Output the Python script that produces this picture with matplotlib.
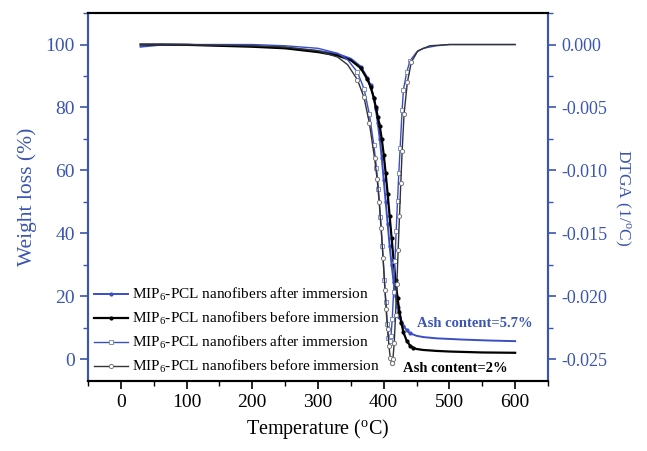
import numpy as np
import matplotlib
matplotlib.use("Agg")
import matplotlib.pyplot as plt
from matplotlib.ticker import MultipleLocator, FuncFormatter

plt.rcParams['font.family'] = ['Liberation Serif', 'DejaVu Serif']
plt.rcParams['mathtext.fontset'] = 'custom'
plt.rcParams['mathtext.rm'] = 'Liberation Serif'
plt.rcParams['mathtext.it'] = 'Liberation Serif:italic'
plt.rcParams['axes.unicode_minus'] = False

blue = '#3b55b0'
line_blue = '#3a4fc4'

# TGA, weight (%) vs temperature (C)
tga_after_T = [30, 60, 100, 150, 200, 250, 300, 330, 350, 365, 375, 380, 385, 388,
               391, 394, 397, 400, 403, 406, 409, 412, 415, 418, 421, 424, 427,
               430, 435, 440, 450, 460, 480, 500, 520, 560, 600]
tga_after_W = [99.3, 99.9, 99.9, 99.8, 99.5, 99.0, 98.0, 97.0, 95.5, 93.0, 89.5, 87.0,
               83.0, 79.5, 75.0, 70.0, 64.0, 57.0, 50.0, 43.0, 36.0, 30.0, 24.5, 20.0,
               16.5, 13.5, 11.8, 10.5, 9.2, 8.2, 7.4, 7.0, 6.6, 6.4, 6.2, 5.9, 5.7]

tga_before_T = [30, 60, 100, 150, 200, 250, 300, 330, 350, 365, 375, 380, 385, 388,
                391, 394, 397, 400, 403, 406, 409, 412, 415, 418, 421, 424, 427,
                430, 435, 440, 445, 450, 460, 480, 500, 550, 600]
tga_before_W = [100.0, 100.0, 99.9, 99.6, 99.3, 98.8, 97.6, 96.5, 95.0, 92.5, 89.0, 86.5,
                83.0, 80.0, 77.0, 74.0, 70.0, 65.0, 59.0, 52.5, 45.5, 38.5, 31.5, 25.0,
                19.5, 15.0, 11.5, 8.5, 5.8, 4.3, 3.6, 3.2, 2.9, 2.6, 2.4, 2.1, 2.0]

# DTGA (1/C) vs temperature (C)
dtga_after_T = [30, 100, 200, 250, 300, 330, 345, 360, 370, 378, 385, 389, 392, 395,
                398, 401, 403, 405, 407, 409, 410, 411, 413, 415, 417, 419, 421, 423,
                425, 428, 430, 435, 440, 450, 460, 480, 500, 550, 600]
dtga_after_D = [0.0, 0.0, 0.0, -0.0001, -0.0003, -0.0007, -0.0012, -0.0022, -0.0035,
                -0.0055, -0.008, -0.0098, -0.0115, -0.0137, -0.016, -0.0187, -0.0205,
                -0.0222, -0.0233, -0.0237, -0.0236, -0.0232, -0.0218, -0.0197, -0.0172,
                -0.0148, -0.0124, -0.0102, -0.0082, -0.0052, -0.0036, -0.0022, -0.0013,
                -0.0006, -0.0003, -0.0001, 0.0, 0.0, 0.0]

dtga_before_T = [30, 100, 200, 250, 300, 330, 345, 360, 370, 378, 386, 390, 393, 396,
                 399, 402, 404, 406, 408, 410, 412, 413, 414, 416, 418, 420, 422, 424,
                 426, 428, 431, 436, 442, 452, 470, 500, 550, 600]
dtga_before_D = [0.0, 0.0, -0.0001, -0.0002, -0.0005, -0.001, -0.0016, -0.0028, -0.0042,
                 -0.0062, -0.009, -0.0107, -0.0125, -0.0146, -0.017, -0.0195, -0.021,
                 -0.0226, -0.024, -0.0249, -0.0253, -0.0253, -0.025, -0.0237, -0.0215,
                 -0.019, -0.0163, -0.0136, -0.011, -0.0085, -0.0055, -0.003, -0.0014,
                 -0.0005, -0.0001, 0.0, 0.0, 0.0]

labels = ['MIP$_6$-PCL nanofibers after immersion',
          'MIP$_6$-PCL nanofibers before immersion',
          'MIP$_6$-PCL nanofibers after immersion',
          'MIP$_6$-PCL nanofibers before immersion']


def steep(temps, lo=355, hi=445):
    # markers only where the curve changes fast (flat parts look like a line)
    return [i for i, t in enumerate(temps) if lo <= t <= hi]


fig = plt.figure(figsize=(6.47, 4.51), dpi=100)
ax = fig.add_axes([0.136, 0.155, 0.711, 0.816])
ax2 = ax.twinx()

l1, = ax.plot(tga_after_T, tga_after_W, color=line_blue, lw=1.4,
              marker='o', ms=2.0, mfc=line_blue, mec=line_blue,
              markevery=steep(tga_after_T))
l2, = ax.plot(tga_before_T, tga_before_W, color='black', lw=1.6,
              marker='o', ms=2.0, mfc='black', mec='black',
              markevery=steep(tga_before_T))
l3, = ax2.plot(dtga_after_T, dtga_after_D, color=line_blue, lw=1.0,
               marker='s', ms=3.0, mfc='white', mec='#7f8fcf', mew=0.7,
               markevery=steep(dtga_after_T))
l4, = ax2.plot(dtga_before_T, dtga_before_D, color='#333333', lw=1.0,
               marker='o', ms=3.0, mfc='white', mec='#777777', mew=0.7,
               markevery=steep(dtga_before_T))

ax.set_xlim(-50, 650)
ax.set_ylim(-7, 110)
ax2.set_ylim(-0.02675, 0.0025)

ax.xaxis.set_major_locator(MultipleLocator(100))
ax.xaxis.set_minor_locator(MultipleLocator(50))
ax.yaxis.set_major_locator(MultipleLocator(20))
ax.yaxis.set_minor_locator(MultipleLocator(10))
ax2.yaxis.set_major_locator(MultipleLocator(0.005))
ax2.yaxis.set_minor_locator(MultipleLocator(0.0025))
ax2.yaxis.set_major_formatter(FuncFormatter(
    lambda v, p: '0.000' if abs(v) < 1e-9 else '%.3f' % v))

for a in (ax, ax2):
    a.tick_params(which='major', direction='out', length=6, width=1.2, labelsize=14)
    a.tick_params(which='minor', direction='out', length=3.5, width=1.0)
    for s in a.spines.values():
        s.set_linewidth(1.5)
    a.spines['left'].set_color(blue)
    a.spines['right'].set_color(blue)
    a.spines['top'].set_color('black')
    a.spines['bottom'].set_color('black')

ax.tick_params(axis='y', which='both', colors=blue, labelcolor=blue)
ax2.tick_params(axis='y', which='both', colors=blue, labelcolor=blue, labelsize=13)
ax.tick_params(axis='x', which='both', colors='black')

ax.set_xlabel('Temperature ($^{\\mathrm{o}}$C)', fontsize=14.5, labelpad=4)
ax.set_ylabel('Weight loss (%)', fontsize=15.5, color=blue, labelpad=6)
ax2.set_ylabel('DTGA (1/$^{\\mathrm{o}}$C)', fontsize=12.5, color=blue,
               rotation=270, labelpad=18)

ax.text(451, 11.2, 'Ash content=5.7%', color=blue, fontsize=10.5,
        fontweight='bold', va='center', ha='left')
ax.text(430, -2.9, 'Ash content=2%', color='black', fontsize=10.5,
        fontweight='bold', va='center', ha='left')

ax.legend([l1, l2, l3, l4], labels, loc='lower left', frameon=False,
          fontsize=11, borderpad=0.1, borderaxespad=0.3, labelspacing=0.45,
          handlelength=2.2, handletextpad=0.3, numpoints=1)

fig.savefig('out.png', dpi=100)
